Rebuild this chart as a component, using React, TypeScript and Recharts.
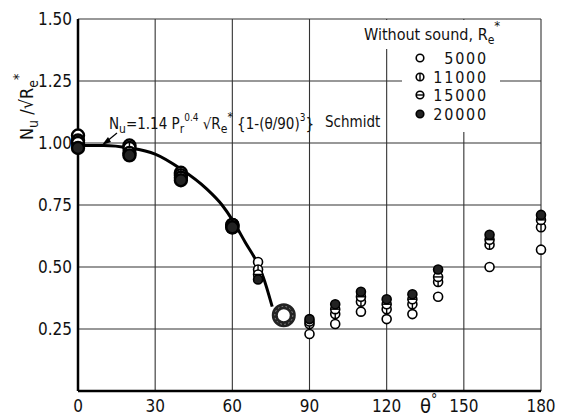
import { ComposedChart, Scatter, Line, XAxis, YAxis } from 'recharts';

// angle θ (deg) and Nu/√Re* for each Reynolds number, without sound
const angles = [0, 20, 40, 60, 70, 90, 100, 110, 120, 130, 140, 160, 180];
const re5000 = [1.03, 0.99, 0.88, 0.67, 0.52, 0.23, 0.27, 0.32, 0.29, 0.31, 0.38, 0.5, 0.57];
const re11000 = [1.01, 0.98, 0.87, 0.67, 0.49, 0.27, 0.31, 0.36, 0.33, 0.35, 0.44, 0.59, 0.66];
const re15000 = [1.0, 0.96, 0.86, 0.66, 0.47, 0.28, 0.33, 0.38, 0.35, 0.37, 0.46, 0.61, 0.69];
const re20000 = [0.98, 0.95, 0.85, 0.66, 0.45, 0.29, 0.35, 0.4, 0.37, 0.39, 0.49, 0.63, 0.71];

// all four runs coincide near separation
const overlapPoint = [{ theta: 80, nu: 0.305 }];

// Schmidt correlation curve, traced
const curveTheta = [0, 10, 20, 30, 40, 50, 56, 60, 65, 70, 72, 75.5];
const curveNu = [0.99, 0.99, 0.98, 0.955, 0.895, 0.815, 0.75, 0.69, 0.6, 0.51, 0.46, 0.34];

const xTicks = [0, 30, 60, 90, 120, 150, 180];
const yTicks = [0.25, 0.5, 0.75, 1.0, 1.25, 1.5];
const X_MAX = 180;
const Y_MAX = 1.5;

const series = [
  { name: '5000', values: re5000, kind: 'open' },
  { name: '11000', values: re11000, kind: 'phi' },
  { name: '15000', values: re15000, kind: 'theta' },
  { name: '20000', values: re20000, kind: 'filled' },
];

const toPoints = (vals: number[]) => angles.map((theta, i) => ({ theta, nu: vals[i] }));
const curve = curveTheta.map((theta, i) => ({ theta, nu: curveNu[i] }));

const FONT = "'DejaVu Sans Condensed', 'DejaVu Sans', sans-serif";

// plot box inside the 563x417 chart
const MARGIN = { top: 19, right: 22, bottom: 0, left: 0 };
const Y_AXIS_W = 78;
const X_AXIS_H = 26;
const PLOT_L = MARGIN.left + Y_AXIS_W;
const PLOT_T = MARGIN.top;
const PLOT_W = 563 - PLOT_L - MARGIN.right;
const PLOT_H = 417 - PLOT_T - MARGIN.bottom - X_AXIS_H;

function Marker({ cx, cy, r, kind }: { cx: number; cy: number; r: number; kind: string }) {
  const sw = r > 5 ? 2.4 : 1.6;
  if (kind === 'filled') {
    return <circle cx={cx} cy={cy} r={r} fill="#222" stroke="#000" strokeWidth={sw} />;
  }
  return (
    <g>
      <circle cx={cx} cy={cy} r={r} fill="#fff" stroke="#000" strokeWidth={sw} />
      {kind === 'phi' && <line x1={cx} y1={cy - r} x2={cx} y2={cy + r} stroke="#000" strokeWidth={1.4} />}
      {kind === 'theta' && <line x1={cx - r} y1={cy} x2={cx + r} y2={cy} stroke="#000" strokeWidth={1.4} />}
    </g>
  );
}

const shapeFor = (kind: string) => (props: any) => {
  const { cx, cy, payload } = props;
  const r = payload.theta <= 60 ? 6 : 4.5;
  return <Marker cx={cx} cy={cy} r={r} kind={kind} />;
};

const ringShape = (props: any) => (
  <g>
    <circle cx={props.cx} cy={props.cy} r={9} fill="#fff" stroke="#222" strokeWidth={6} />
    <circle cx={props.cx} cy={props.cy} r={9} fill="none" stroke="#999" strokeWidth={1} strokeDasharray="1.5 2.5" />
  </g>
);

// background grid, laid under the chart svg
function GridUnderlay() {
  const gx = (t: number) => PLOT_L + (t / X_MAX) * PLOT_W;
  const gy = (v: number) => PLOT_T + ((Y_MAX - v) / Y_MAX) * PLOT_H;
  return (
    <svg width={563} height={417} style={{ position: 'absolute', left: 0, top: 0 }}>
      {xTicks.slice(1).map((t) => (
        <line key={'v' + t} x1={gx(t)} y1={PLOT_T} x2={gx(t)} y2={PLOT_T + PLOT_H} stroke="#333" strokeWidth={1.1} />
      ))}
      {yTicks.map((v) => (
        <line key={'h' + v} x1={PLOT_L} y1={gy(v)} x2={PLOT_L + PLOT_W} y2={gy(v)} stroke="#333" strokeWidth={1.1} />
      ))}
    </svg>
  );
}

// legend, equation and axis titles sit in an svg layered over the chart
function Overlay() {
  const legendRows = [58, 77, 95, 114];
  return (
    <svg
      width={563}
      height={417}
      style={{ position: 'absolute', left: 0, top: 0, pointerEvents: 'none' }}
      fontFamily={FONT}
      fill="#111"
    >
      <text x={364} y={40} fontSize={16}>
        Without sound, R
        <tspan fontSize={12} dy={4}>e</tspan>
        <tspan fontSize={13} dy={-14}>*</tspan>
      </text>
      {series.map((s, i) => (
        <g key={s.name}>
          <Marker cx={420} cy={legendRows[i]} r={3.8} kind={s.kind} />
          <text x={488} y={legendRows[i] + 6} fontSize={16} textAnchor="end" letterSpacing={1.8}>
            {s.name}
          </text>
        </g>
      ))}

      {/* correlation label with arrow */}
      <text x={109} y={129} fontSize={15}>
        N<tspan fontSize={12} dy={4}>u</tspan>
        <tspan dy={-4}>=1.14 P</tspan>
        <tspan fontSize={12} dy={4}>r</tspan>
        <tspan fontSize={10} dy={-12}>0.4</tspan>
        <tspan dy={8}> √R</tspan>
        <tspan fontSize={12} dy={4}>e</tspan>
        <tspan fontSize={12} dy={-12}>*</tspan>
        <tspan dy={8}> {'{'}1-(θ/90)</tspan>
        <tspan fontSize={10} dy={-8}>3</tspan>
        <tspan dy={8}>{'}'}</tspan>
      </text>
      <text x={325} y={127} fontSize={15}>Schmidt</text>
      <line x1={117} y1={133} x2={106} y2={142} stroke="#000" strokeWidth={1.2} />
      <polygon points="102,145 108,137 111,142" fill="#000" />

      {/* axis titles */}
      <text x={420} y={413} fontSize={20}>
        θ<tspan fontSize={14} dy={-9}>°</tspan>
      </text>
      <text transform="translate(33, 140) rotate(-90)" fontSize={18}>
        N<tspan fontSize={14} dy={5}>u</tspan>
        <tspan dy={-5}> /√R</tspan>
        <tspan fontSize={14} dy={5}>e</tspan>
        <tspan fontSize={14} dy={-15}>*</tspan>
      </text>
    </svg>
  );
}

// white patches that keep the grid out of the legend, between grid and text
function LegendMask() {
  return (
    <svg width={563} height={417} style={{ position: 'absolute', left: 0, top: 0 }}>
      <rect x={360} y={20} width={140} height={29} fill="#fff" />
      <rect x={402} y={48} width={98} height={84} fill="#fff" />
    </svg>
  );
}

const tickStyle = { fontFamily: FONT, fontSize: 17, fill: '#111' };

export default function App() {
  return (
    <div style={{ position: 'absolute', left: 0, top: 0, width: 563, height: 417, background: '#fff' }}>
      <GridUnderlay />
      <LegendMask />
      <ComposedChart width={563} height={417} margin={MARGIN}>
        <XAxis
          type="number"
          dataKey="theta"
          domain={[0, X_MAX]}
          ticks={xTicks}
          interval={0}
          height={X_AXIS_H}
          tickLine={false}
          tickMargin={3}
          axisLine={{ stroke: '#000', strokeWidth: 2.5 }}
          tick={tickStyle}
        />
        <YAxis
          type="number"
          dataKey="nu"
          domain={[0, Y_MAX]}
          ticks={yTicks}
          interval={0}
          width={Y_AXIS_W}
          tickLine={false}
          tickMargin={0}
          axisLine={{ stroke: '#000', strokeWidth: 2.5 }}
          tick={tickStyle}
          tickFormatter={(v: number) => v.toFixed(2)}
        />
        <Line
          data={curve}
          dataKey="nu"
          type="monotone"
          stroke="#000"
          strokeWidth={3}
          dot={false}
          activeDot={false}
          isAnimationActive={false}
        />
        <Scatter data={overlapPoint} shape={ringShape} isAnimationActive={false} />
        {series.map((s) => (
          <Scatter
            key={s.name}
            name={s.name}
            data={toPoints(s.values)}
            shape={shapeFor(s.kind)}
            isAnimationActive={false}
          />
        ))}
      </ComposedChart>
      <Overlay />
    </div>
  );
}
